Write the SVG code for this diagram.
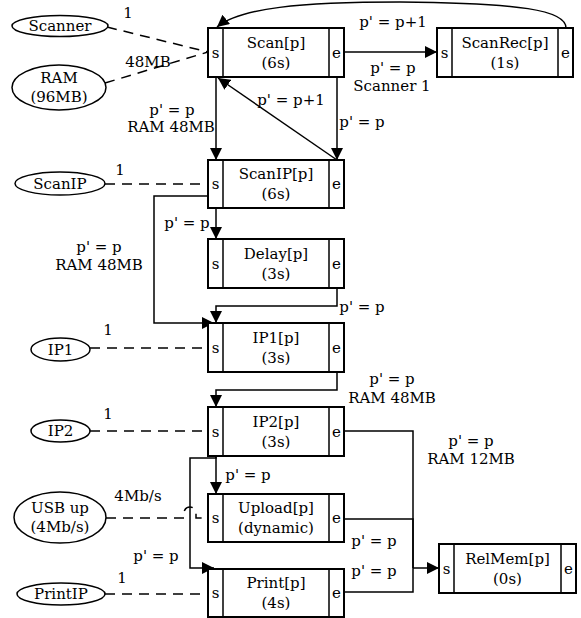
<svg xmlns="http://www.w3.org/2000/svg" width="581" height="618" viewBox="0 0 581 618">
<defs>
<marker id="arr" viewBox="0 0 10 10" refX="10" refY="5" markerWidth="12" markerHeight="12" markerUnits="userSpaceOnUse" orient="auto"><path d="M0,0 L10,5 L0,10 z" fill="#000"/></marker>
</defs>
<style>
text{font-family:"DejaVu Serif","Liberation Serif",serif;font-size:15px;fill:#000;text-anchor:middle;dominant-baseline:central}
.box{fill:#fff;stroke:#000;stroke-width:2}
.div{stroke:#000;stroke-width:1.5}
.res{fill:#fff;stroke:#000;stroke-width:1.5}
.e{fill:none;stroke:#000;stroke-width:1.5}
.d{fill:none;stroke:#000;stroke-width:1.5;stroke-dasharray:10,7}
.a{marker-end:url(#arr)}
</style>
<rect width="581" height="618" fill="#fff"/>
<g id="connectors">
<path class="d" d="M107,27 L208,52"/>
<path class="d" d="M105,83 L208,52"/>
<path class="d" d="M105,184 L208,184"/>
<path class="d" d="M90,348 L208,348"/>
<path class="d" d="M90,431 L208,431"/>
<path class="d" d="M106,518 L184,518 L184,513 A6,6 0 0 1 196,513 L196,518 L208,518"/>
<path class="d" d="M105,594 L208,594"/>
<path class="e a" d="M566,28 C566,10 520,3 400,2 C300,2 240,8 217,27"/>
<path class="e a" d="M344,52 L437,52"/>
<path class="e a" d="M216,77 L216,160"/>
<path class="e a" d="M337,160 L218,78"/>
<path class="e a" d="M337,77 L337,160"/>
<path class="e a" d="M216,208 L216,239"/>
<path class="e a" d="M208,196 L154,196 L154,323 L214,323"/>
<path class="e a" d="M337,288 L337,306 L216,306 L216,323"/>
<path class="e a" d="M337,372 L337,390 L216,390 L216,407"/>
<path class="e a" d="M216,456 L216,494"/>
<path class="e a" d="M216,456 L216,458 L190,458 L190,568 L214,568"/>
<path class="e" d="M344,431 L413,431 L413,568"/>
<path class="e" d="M344,519 L413,519 L413,568"/>
<path class="e" d="M344,592 L413,592 L413,568"/>
<path class="e a" d="M413,568 L439,568"/>
<text x="128" y="13">1</text>
<text x="148" y="62">48MB</text>
<text x="393" y="22">p' = p+1</text>
<text x="393" y="68">p' = p</text>
<text x="392" y="86">Scanner 1</text>
<text x="172" y="110">p' = p</text>
<text x="171" y="127">RAM 48MB</text>
<text x="291" y="100">p' = p+1</text>
<text x="362" y="122">p' = p</text>
<text x="120" y="170">1</text>
<text x="187" y="223">p' = p</text>
<text x="99" y="247">p' = p</text>
<text x="99" y="265">RAM 48MB</text>
<text x="362" y="307">p' = p</text>
<text x="108" y="330">1</text>
<text x="392" y="379">p' = p</text>
<text x="392" y="398">RAM 48MB</text>
<text x="108" y="414">1</text>
<text x="471" y="441">p' = p</text>
<text x="471" y="459">RAM 12MB</text>
<text x="248" y="475">p' = p</text>
<text x="138" y="496">4Mb/s</text>
<text x="156" y="556">p' = p</text>
<text x="122" y="578">1</text>
<text x="374" y="541">p' = p</text>
<text x="374" y="571">p' = p</text>
</g>
<g id="res-scanner"><ellipse class="res" cx="60" cy="26" rx="48" ry="10.5"/><text x="60" y="26">Scanner</text></g>
<g id="res-ram"><ellipse class="res" cx="59" cy="87.5" rx="47" ry="22.5"/><text x="59" y="78">RAM</text><text x="59" y="97">(96MB)</text></g>
<g id="res-scanip"><ellipse class="res" cx="60" cy="183.5" rx="45" ry="11.5"/><text x="60" y="183.5">ScanIP</text></g>
<g id="res-ip1"><ellipse class="res" cx="60.5" cy="349.5" rx="29.5" ry="11.5"/><text x="60.5" y="349.5">IP1</text></g>
<g id="res-ip2"><ellipse class="res" cx="60.5" cy="431" rx="29.5" ry="11"/><text x="60.5" y="431">IP2</text></g>
<g id="res-usb"><ellipse class="res" cx="60" cy="517.5" rx="46" ry="25.5"/><text x="60" y="508">USB up</text><text x="60" y="527">(4Mb/s)</text></g>
<g id="res-printip"><ellipse class="res" cx="61" cy="594" rx="44" ry="11"/><text x="61" y="594">PrintIP</text></g>
<g id="scan"><rect class="box" x="208" y="28" width="136" height="49"/><line class="div" x1="223" y1="28" x2="223" y2="77"/><line class="div" x1="329" y1="28" x2="329" y2="77"/><text x="215.5" y="52.5">s</text><text x="336.5" y="52.5">e</text><text x="276" y="42.5">Scan[p]</text><text x="276" y="62.5">(6s)</text></g>
<g id="scanrec"><rect class="box" x="437" y="28" width="136" height="49"/><line class="div" x1="452" y1="28" x2="452" y2="77"/><line class="div" x1="558" y1="28" x2="558" y2="77"/><text x="444.5" y="52.5">s</text><text x="565.5" y="52.5">e</text><text x="505" y="42.5">ScanRec[p]</text><text x="505" y="62.5">(1s)</text></g>
<g id="scanip"><rect class="box" x="208" y="160" width="136" height="48"/><line class="div" x1="223" y1="160" x2="223" y2="208"/><line class="div" x1="329" y1="160" x2="329" y2="208"/><text x="215.5" y="184">s</text><text x="336.5" y="184">e</text><text x="276" y="174">ScanIP[p]</text><text x="276" y="194">(6s)</text></g>
<g id="delay"><rect class="box" x="208" y="239" width="136" height="49"/><line class="div" x1="223" y1="239" x2="223" y2="288"/><line class="div" x1="329" y1="239" x2="329" y2="288"/><text x="215.5" y="263.5">s</text><text x="336.5" y="263.5">e</text><text x="276" y="253.5">Delay[p]</text><text x="276" y="273.5">(3s)</text></g>
<g id="ip1"><rect class="box" x="208" y="323" width="136" height="49"/><line class="div" x1="223" y1="323" x2="223" y2="372"/><line class="div" x1="329" y1="323" x2="329" y2="372"/><text x="215.5" y="347.5">s</text><text x="336.5" y="347.5">e</text><text x="276" y="337.5">IP1[p]</text><text x="276" y="357.5">(3s)</text></g>
<g id="ip2"><rect class="box" x="208" y="407" width="136" height="49"/><line class="div" x1="223" y1="407" x2="223" y2="456"/><line class="div" x1="329" y1="407" x2="329" y2="456"/><text x="215.5" y="431.5">s</text><text x="336.5" y="431.5">e</text><text x="276" y="421.5">IP2[p]</text><text x="276" y="441.5">(3s)</text></g>
<g id="upload"><rect class="box" x="208" y="494" width="136" height="48"/><line class="div" x1="223" y1="494" x2="223" y2="542"/><line class="div" x1="329" y1="494" x2="329" y2="542"/><text x="215.5" y="518">s</text><text x="336.5" y="518">e</text><text x="276" y="508">Upload[p]</text><text x="276" y="528">(dynamic)</text></g>
<g id="print"><rect class="box" x="208" y="569" width="136" height="48"/><line class="div" x1="223" y1="569" x2="223" y2="617"/><line class="div" x1="329" y1="569" x2="329" y2="617"/><text x="215.5" y="593">s</text><text x="336.5" y="593">e</text><text x="276" y="583">Print[p]</text><text x="276" y="603">(4s)</text></g>
<g id="relmem"><rect class="box" x="439" y="544" width="137" height="49"/><line class="div" x1="454" y1="544" x2="454" y2="593"/><line class="div" x1="561" y1="544" x2="561" y2="593"/><text x="446.5" y="568.5">s</text><text x="568.5" y="568.5">e</text><text x="507.5" y="558.5">RelMem[p]</text><text x="507.5" y="578.5">(0s)</text></g>
</svg>
